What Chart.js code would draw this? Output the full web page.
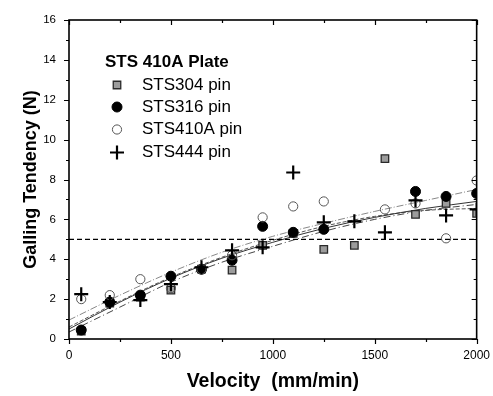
<!DOCTYPE html>
<html><head><meta charset="utf-8">
<script src="https://cdn.jsdelivr.net/npm/chart.js@4.4.1/dist/chart.umd.min.js"></script>
<style>html,body{margin:0;padding:0;background:#fff}#wrap{width:493px;height:396px;position:relative}</style>
</head><body><div id="wrap"><canvas id="c" width="493" height="396"></canvas></div>
<script>
// ---- data ----
const velocity = [60, 200, 350, 500, 650, 800, 950, 1100, 1250, 1400, 1550, 1700, 1850, 2000];
const sts304 = [0.4, 1.8, 2.1, 2.45, 3.5, 3.45, 4.7, 5.3, 4.5, 4.7, 9.05, 6.25, 6.8, 6.3];
const sts316 = [0.45, 1.85, 2.2, 3.15, 3.5, 3.95, 5.65, 5.35, 5.5, null, null, 7.4, 7.15, 7.3];
const sts410A = [2.0, 2.2, 3.0, 2.55, 3.5, 4.2, 6.1, 6.65, 6.9, null, 6.5, 6.8, 5.05, 7.95];
const sts444 = [2.25, 1.85, 1.95, 2.75, 3.6, 4.45, 4.6, 8.35, 5.85, 5.9, 5.35, 6.95, 6.2, 6.5];

const fitX = [0, 250, 500, 750, 1000, 1250, 1500, 1750, 2000];
const fit410A = [0.95, 2.2, 3.35, 4.35, 5.15, 5.8, 6.4, 6.95, 7.5];
const fit316 = [0.5, 1.85, 3.05, 4.05, 4.85, 5.55, 6.1, 6.55, 6.9];
const fit444 = [0.6, 1.9, 3.1, 4.1, 4.95, 5.65, 6.15, 6.45, 6.55];
const fit304 = [0.35, 1.6, 2.85, 3.85, 4.65, 5.4, 6.0, 6.45, 6.75];

const refX = [0, 2000];
const refY = [5, 5];

const xTicks = [0, 500, 1000, 1500, 2000];
const yTicks = [0, 2, 4, 6, 8, 10, 12, 14, 16];

const legendTitle = 'STS 410A Plate';
const seriesNames = ['STS304 pin', 'STS316 pin', 'STS410A pin', 'STS444 pin'];

const FONT = '"Liberation Sans", Arial, sans-serif';
const pts = (xs, ys) => xs.map((x, i) => ({x: x, y: ys[i]}));

// marker styles
const mk = [
  {pointStyle: 'rect', pointRadius: 5.3, backgroundColor: '#9c9c9c', borderColor: '#2a2a2a', borderWidth: 1.3},
  {pointStyle: 'circle', pointRadius: 5, backgroundColor: '#000', borderColor: '#000', borderWidth: 1},
  {pointStyle: 'circle', pointRadius: 4.6, backgroundColor: 'rgba(255,255,255,0)', borderColor: '#555', borderWidth: 1},
  {pointStyle: 'cross', pointRadius: 7, backgroundColor: '#000', borderColor: '#000', borderWidth: 2.2}
];
const seriesData = [sts304, sts316, sts410A, sts444];

function scatterDs(i, order) {
  const m = mk[i];
  return {
    type: 'scatter', label: seriesNames[i], data: pts(velocity, seriesData[i]),
    pointStyle: m.pointStyle, pointRadius: m.pointRadius, pointHoverRadius: m.pointRadius,
    backgroundColor: m.backgroundColor, borderColor: m.borderColor, borderWidth: m.borderWidth,
    showLine: false, order: order, clip: 0
  };
}
function lineDs(label, ys, color, dash, width) {
  return {
    type: 'line', label: label, data: pts(fitX, ys), borderColor: color, borderWidth: width || 1,
    borderDash: dash, pointRadius: 0, fill: false, cubicInterpolationMode: 'monotone', order: 10
  };
}

const axisPlugin = {
  id: 'axisBox',
  afterDatasetsDraw(chart) {
    const {ctx, chartArea: a, scales: {x, y}} = chart;
    ctx.save();
    ctx.strokeStyle = '#000';
    ctx.lineWidth = 1.6;
    ctx.strokeRect(a.left, a.top, a.right - a.left, a.bottom - a.top);
    ctx.lineWidth = 1.2;
    ctx.beginPath();
    for (let v = 0; v <= 16; v += 1) {
      const py = Math.round(y.getPixelForValue(v)) + 0.5;
      const len = v % 2 === 0 ? 5 : 3;
      ctx.moveTo(a.left - len, py); ctx.lineTo(a.left, py);
      ctx.moveTo(a.right, py); ctx.lineTo(a.right - len, py);
    }
    for (let v = 0; v <= 2000; v += 250) {
      const px = Math.round(x.getPixelForValue(v)) + 0.5;
      const len = v % 500 === 0 ? 5 : 3;
      ctx.moveTo(px, a.bottom); ctx.lineTo(px, a.bottom + len);
      ctx.moveTo(px, a.top); ctx.lineTo(px, a.top + len);
    }
    ctx.stroke();
    ctx.restore();
  }
};

const legendPlugin = {
  id: 'inLegend',
  afterDraw(chart) {
    const {ctx} = chart;
    ctx.save();
    ctx.fillStyle = '#000';
    ctx.textBaseline = 'middle';
    ctx.font = 'bold 17px ' + FONT;
    ctx.fillText(legendTitle, 105, 62);
    ctx.font = '17px ' + FONT;
    const rows = [85, 107, 129.5, 152.5];
    const mx = 117;
    rows.forEach((ry, i) => {
      const m = mk[i];
      ctx.fillStyle = '#000';
      ctx.fillText(seriesNames[i], 142, ry);
      ctx.lineWidth = m.borderWidth;
      ctx.strokeStyle = m.borderColor;
      ctx.fillStyle = m.backgroundColor;
      ctx.beginPath();
      if (m.pointStyle === 'rect') {
        const s = m.pointRadius * Math.SQRT1_2;
        ctx.rect(mx - s, ry - s, 2 * s, 2 * s);
        ctx.fill(); ctx.stroke();
      } else if (m.pointStyle === 'circle') {
        ctx.arc(mx, ry, m.pointRadius, 0, Math.PI * 2);
        ctx.fill(); ctx.stroke();
      } else {
        const r = m.pointRadius;
        ctx.moveTo(mx - r, ry); ctx.lineTo(mx + r, ry);
        ctx.moveTo(mx, ry - r); ctx.lineTo(mx, ry + r);
        ctx.stroke();
      }
    });
    ctx.restore();
  }
};

new Chart(document.getElementById('c'), {
  data: {
    datasets: [
      scatterDs(3, 1),
      scatterDs(2, 2),
      scatterDs(1, 3),
      scatterDs(0, 4),
      lineDs('fit 410A', fit410A, '#888', [7, 2, 1, 2], 1),
      lineDs('fit 316', fit316, '#333', [], 1),
      lineDs('fit 444', fit444, '#555', [4, 2], 1),
      lineDs('fit 304', fit304, '#444', [7, 3, 1, 3], 1),
      {type: 'line', label: 'ref', data: pts(refX, refY), borderColor: '#000', borderWidth: 1.2,
       borderDash: [5, 3], pointRadius: 0, fill: false, order: 9}
    ]
  },
  options: {
    responsive: false,
    animation: false,
    events: [],
    layout: {padding: {top: 20, right: 15, left: 0, bottom: 0}},
    plugins: {legend: {display: false}, tooltip: {enabled: false}},
    scales: {
      x: {
        type: 'linear', min: 0, max: 2000,
        afterFit: s => { s.height = 57; },
        afterBuildTicks: s => { s.ticks = xTicks.map(v => ({value: v})); },
        ticks: {font: {family: FONT, size: 12}, color: '#000', padding: 3, maxRotation: 0,
                callback: v => String(v)},
        grid: {display: true, drawOnChartArea: false, drawTicks: true, tickLength: 6, color: 'rgba(0,0,0,0)'},
        border: {display: false},
        title: {display: true, text: 'Velocity  (mm/min)', color: '#000',
                font: {family: FONT, size: 19.5, weight: 'bold'}, padding: {top: 0, bottom: 3}}
      },
      y: {
        type: 'linear', min: 0, max: 16,
        afterFit: s => { s.width = 69; },
        afterBuildTicks: s => { s.ticks = yTicks.map(v => ({value: v})); },
        ticks: {font: {family: FONT, size: 11.5}, color: '#000', padding: 7,
                callback: v => String(v)},
        grid: {display: true, drawOnChartArea: false, drawTicks: true, tickLength: 6, color: 'rgba(0,0,0,0)'},
        border: {display: false},
        title: {display: true, text: 'Galling Tendency (N)', color: '#000',
                font: {family: FONT, size: 18, weight: 'bold'}, padding: {top: 20, bottom: 0}}
      }
    }
  },
  plugins: [axisPlugin, legendPlugin]
});
</script>
</body></html>
